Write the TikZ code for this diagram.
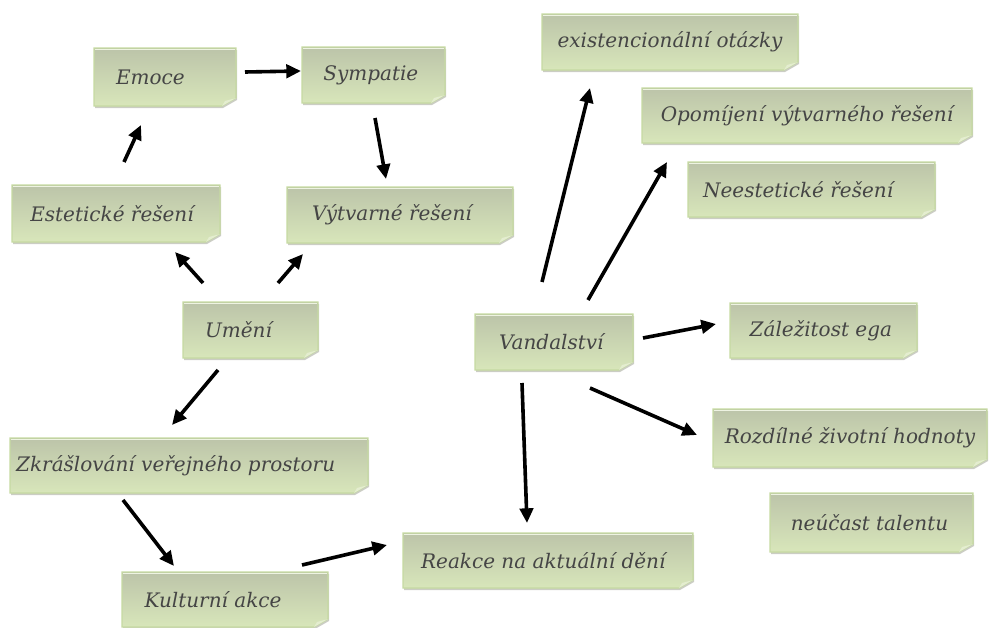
\documentclass[tikz,border=0pt]{standalone}
\usepackage{fontspec}
\setmainfont{DejaVu Serif}
\usetikzlibrary{arrows.meta}
\definecolor{topc}{HTML}{BCC4A9}
\definecolor{botc}{HTML}{D8E6BA}
\definecolor{edgec}{HTML}{C6DAA2}
\definecolor{hic}{HTML}{EEF3E2}
\definecolor{foldc}{HTML}{E4EDD0}
\definecolor{shadc}{HTML}{A8AC9C}
\definecolor{txtc}{HTML}{454545}
% name, x1, y1, x2, y2, text shift (pt), text
\newcommand\nbox[7]{%
 \fill[shadc, opacity=0.6] ({#2+1},{#3+2}) -- ({#4+1},{#3+2}) -- ({#4+1},{#5-6}) -- ({#4-13},{#5+2}) -- ({#2+1},{#5+2}) -- cycle;
 \shade[top color=topc,bottom color=botc,draw=edgec,line width=0.8pt] (#2,#3) -- (#4,#3) -- (#4,{#5-8}) -- ({#4-14},#5) -- (#2,#5) -- cycle;
 \draw[hic, line width=0.8pt] ({#2+1},{#3+1.5}) -- ({#4-1},{#3+1.5});
 \fill[foldc] (#4,{#5-8}) -- ({#4-14},#5) -- ({#4-11},{#5-5}) -- cycle;
 \node[nb, minimum width={(#4-#2)*0.75pt}, minimum height={(#5-#3)*0.75pt}] (#1) at ({(#2+#4)/2},{(#3+#5)/2}) {\hspace*{#6pt}#7};
}
\tikzset{
 nb/.style={font=\itshape\fontsize{15}{18}\selectfont, text=txtc, draw=none, inner sep=0pt},
 arr/.style={line width=2.7pt, -{Triangle[length=11pt,width=10pt]}}
}
\begin{document}
\begin{tikzpicture}[x=0.75pt,y=-0.75pt]
\useasboundingbox (0,0) rectangle (1001,628);
\nbox{emoce}{94}{48}{236}{106}{-22}{Emoce}
\nbox{sympatie}{302}{47}{445}{103}{-4}{Sympatie}
\nbox{estet}{12}{185}{220}{242}{-6}{Estetické řešení}
\nbox{vytv}{287}{187}{513}{243}{-12}{Výtvarné řešení}
\nbox{umeni}{183}{302}{318}{358}{-18}{Umění}
\nbox{zkras}{10}{438}{368}{493}{-20}{Zkrášlování veřejného prostoru}
\nbox{kult}{122}{572}{328}{627}{-18}{Kulturní akce}
\nbox{reakce}{403}{533}{693}{588}{-7}{Reakce na aktuální dění}
\nbox{vand}{475}{314}{633}{370}{-4}{Vandalství}
\nbox{ego}{730}{303}{917}{358}{-4}{Záležitost ega}
\nbox{rozd}{713}{409}{987}{467}{0}{Rozdílné životní hodnoty}
\nbox{talent}{770}{493}{973}{552}{-3}{neúčast talentu}
\nbox{exist}{542}{14}{798}{70}{0}{existencionální otázky}
\nbox{opom}{642}{88}{972}{143}{0}{Opomíjení výtvarného řešení}
\nbox{neest}{688}{162}{935}{217}{-20}{Neestetické řešení}
% arrow end points
\coordinate (a1s) at (245,72);  \coordinate (a1e) at (301,71);
\coordinate (a2s) at (375,118); \coordinate (a2e) at (386,179);
\coordinate (a3s) at (124,162); \coordinate (a3e) at (141,125);
\coordinate (a4s) at (203,283); \coordinate (a4e) at (175,252);
\coordinate (a5s) at (278,283); \coordinate (a5e) at (303,254);
\coordinate (a6s) at (218,370); \coordinate (a6e) at (172,425);
\coordinate (a7s) at (123,500); \coordinate (a7e) at (174,566);
\coordinate (a8s) at (302,565); \coordinate (a8e) at (387,545);
\coordinate (a9s) at (522,383); \coordinate (a9e) at (527,523);
\coordinate (a10s) at (542,282); \coordinate (a10e) at (590,88);
\coordinate (a11s) at (588,300); \coordinate (a11e) at (667,162);
\coordinate (a12s) at (643,338); \coordinate (a12e) at (716,324);
\coordinate (a13s) at (590,388); \coordinate (a13e) at (697,435);
\draw[arr] (a1s) -- (a1e);
\draw[arr] (a2s) -- (a2e);
\draw[arr] (a3s) -- (a3e);
\draw[arr] (a4s) -- (a4e);
\draw[arr] (a5s) -- (a5e);
\draw[arr] (a6s) -- (a6e);
\draw[arr] (a7s) -- (a7e);
\draw[arr] (a8s) -- (a8e);
\draw[arr] (a9s) -- (a9e);
\draw[arr] (a10s) -- (a10e);
\draw[arr] (a11s) -- (a11e);
\draw[arr] (a12s) -- (a12e);
\draw[arr] (a13s) -- (a13e);
\end{tikzpicture}
\end{document}
